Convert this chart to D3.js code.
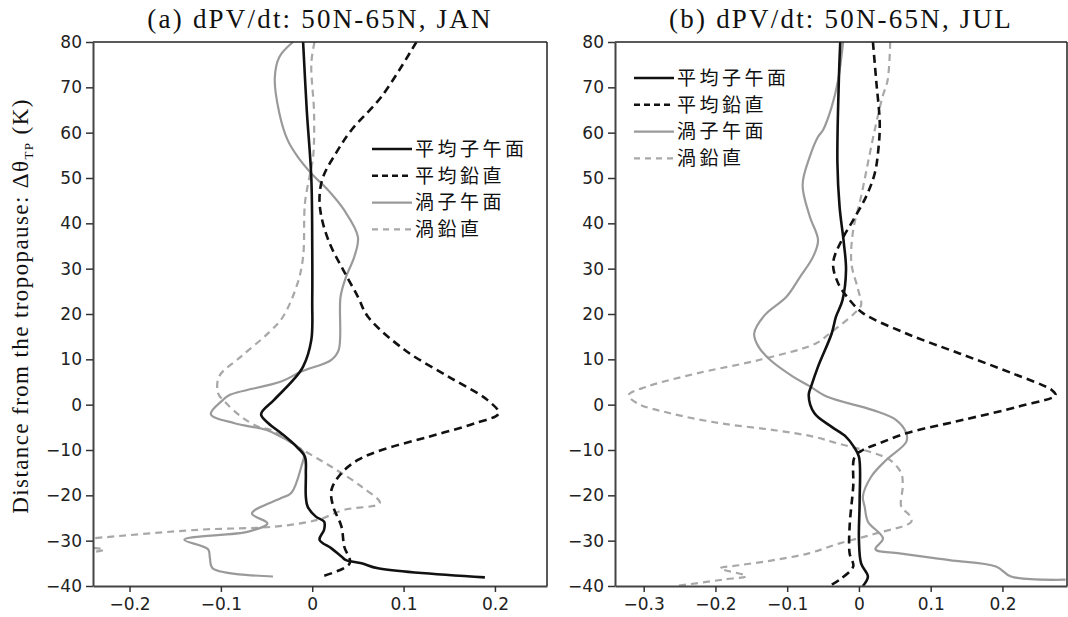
<!DOCTYPE html>
<html><head><meta charset="utf-8">
<script src="https://cdn.jsdelivr.net/npm/d3@7"></script>
<style>body{margin:0;background:#fff}svg{display:block}</style>
</head><body>
<svg id="c" width="1068" height="617"></svg>
<script>
// ---- Data: [value, Δθ_TP level] ----
const titles = ["(a) dPV/dt: 50N-65N, JAN", "(b) dPV/dt: 50N-65N, JUL"];
const seriesNames = ["平均子午面", "平均鉛直", "渦子午面", "渦鉛直"];
const yTicks = [-40, -30, -20, -10, 0, 10, 20, 30, 40, 50, 60, 70, 80];
const xTicksJan = [-0.2, -0.1, 0, 0.1, 0.2];
const xTicksJul = [-0.3, -0.2, -0.1, 0, 0.1, 0.2];
const xDomainJan = [-0.24, 0.257];
const xDomainJul = [-0.34, 0.29];

const janMeanMer = [[-0.010,80],[-0.006,65],[-0.001,50],[0,35],[0,23],[-0.001,14.3],[-0.010,8.4],[-0.021,5.4],[-0.042,1],[-0.056,-2.1],[-0.048,-4.1],[-0.034,-6.3],[-0.017,-9.3],[-0.008,-11.5],[-0.007,-15.1],[-0.007,-20.3],[-0.005,-22.5],[0.004,-24.7],[0.013,-25.8],[0.013,-27.6],[0.008,-29.8],[0.021,-31.7],[0.032,-33.5],[0.037,-34.3],[0.054,-35],[0.072,-36.1],[0.189,-38.1]];
const janMeanVer = [[0.114,80],[0.076,68],[0.043,60.6],[0.026,55.5],[0.012,50.3],[0.008,45.9],[0.010,41.5],[0.019,35.6],[0.034,29.7],[0.050,23.8],[0.061,19.4],[0.101,12.1],[0.149,6.2],[0.192,1],[0.204,-1.9],[0.178,-4.1],[0.127,-7.1],[0.076,-10],[0.050,-12.2],[0.032,-15.1],[0.021,-18.8],[0.023,-22.5],[0.032,-26.9],[0.035,-31.3],[0.041,-35],[0.010,-37.9]];
const janEddyMer = [[-0.021,80],[-0.036,76.7],[-0.041,72],[-0.036,64.3],[-0.027,58.4],[-0.016,54.7],[-0.001,51],[0.017,47.4],[0.035,42.9],[0.050,37],[0.046,32.6],[0.037,28.2],[0.031,23.8],[0.029,12.1],[0.021,9.9],[-0.012,7.3],[-0.034,5.1],[-0.091,2.1],[-0.098,1],[-0.111,-2.1],[-0.085,-4.1],[-0.050,-5.6],[-0.034,-7.1],[-0.016,-9.3],[-0.009,-10.7],[-0.012,-13.7],[-0.023,-19.5],[-0.034,-20.6],[-0.066,-24],[-0.049,-26.2],[-0.070,-28],[-0.140,-29.8],[-0.114,-31.9],[-0.112,-33.9],[-0.109,-36.1],[-0.043,-37.9]];
const janEddyVer = [[0.0025,80],[-0.001,75.3],[0.002,64.3],[0.001,54.7],[-0.003,50.3],[-0.008,44.4],[-0.010,32.6],[-0.016,26.8],[-0.032,19.4],[-0.047,16],[-0.078,10.6],[-0.102,6.2],[-0.103,2.5],[-0.096,0.7],[-0.078,-2.6],[-0.059,-4.9],[-0.045,-5.6],[-0.016,-9.3],[0.021,-13.7],[0.054,-18.1],[0.074,-21.7],[0.035,-23.2],[0.006,-25.4],[-0.041,-26.9],[-0.125,-27.6],[-0.242,-29.5],[-0.30,-30.5],[-0.255,-31.3],[-0.228,-32],[-0.30,-34]];

const julMeanMer = [[-0.026,80],[-0.028,71.6],[-0.030,53.3],[-0.027,43.7],[-0.021,35.6],[-0.018,29.7],[-0.023,23],[-0.032,19.4],[-0.038,15.7],[-0.057,8.4],[-0.066,4.3],[-0.070,2.1],[-0.062,-1.9],[-0.038,-4.9],[-0.018,-7.1],[-0.007,-9.3],[0,-11.5],[0.001,-21],[0,-29.8],[0.003,-35],[0.0125,-37.9],[0.0055,-40]];
const julMeanVer = [[0.0195,80],[0.024,71.6],[0.029,62],[0.027,56.2],[0.022,51],[0.010,45.9],[-0.008,40.7],[-0.024,36.3],[-0.036,31.2],[-0.029,26.8],[-0.013,23.1],[0.0055,20.2],[0.066,15.7],[0.140,11.3],[0.214,6.9],[0.269,3.2],[0.274,2.1],[0.223,-0.4],[0.144,-3.4],[0.066,-6.3],[0.029,-8.5],[0.0055,-10],[-0.006,-11.5],[-0.008,-18.1],[-0.013,-26.9],[-0.013,-32.8],[-0.008,-35.7],[-0.027,-38.6],[-0.041,-40]];
const julEddyMer = [[-0.022,80],[-0.029,71.6],[-0.038,65.7],[-0.050,60.6],[-0.057,59.1],[-0.0685,54.7],[-0.0785,48.5],[-0.0685,41.5],[-0.057,36.3],[-0.064,32.6],[-0.082,28.2],[-0.101,23.8],[-0.131,19.8],[-0.146,15.7],[-0.140,12.8],[-0.124,9.9],[-0.092,6.2],[-0.070,4.2],[-0.045,1.8],[0.0195,-1.2],[0.052,-3.4],[0.066,-6.3],[0.066,-8.2],[0.038,-12.2],[0.017,-15.9],[0.0055,-20.3],[0.008,-22.5],[0.0125,-25.8],[0.0335,-29.5],[0.023,-31.9],[0.0565,-32.8],[0.126,-34.3],[0.191,-35.7],[0.212,-37.9],[0.288,-38.6]];
const julEddyVer = [[0.0436,80],[0.040,71.6],[0.033,68],[0.022,60.6],[0.0125,53.3],[0.003,45.9],[-0.008,38.5],[-0.0105,31.2],[-0.001,25.3],[0.003,22],[-0.006,20.2],[-0.041,15.7],[-0.060,13.5],[-0.138,9.9],[-0.226,6.9],[-0.295,4],[-0.321,2.1],[-0.309,0.3],[-0.263,-1.9],[-0.1935,-4.1],[-0.119,-5.6],[-0.062,-7.1],[-0.031,-8.5],[0.015,-10.4],[0.043,-12.2],[0.059,-15.1],[0.061,-18.1],[0.059,-22.5],[0.070,-24.3],[0.073,-25.8],[0.024,-28.4],[-0.027,-30.6],[-0.070,-32.8],[-0.119,-34.3],[-0.166,-35.4],[-0.1935,-36.1],[-0.157,-37.8],[-0.19,-38.6],[-0.255,-40]];

const styles = [
  {stroke:"#111", width:2.6, dash:null},
  {stroke:"#111", width:2.6, dash:"8,5"},
  {stroke:"#9a9a9a", width:2.2, dash:null},
  {stroke:"#a8a8a8", width:2.2, dash:"7,5"}
];

const svg = d3.select("#c");
const yTop = 42, yBottom = 586;
const panels = [
  {x0:93, x1:547, dom:xDomainJan, ticks:xTicksJan, series:[janMeanMer,janMeanVer,janEddyMer,janEddyVer], title:titles[0], legend:{x:372, y:149}},
  {x0:615, x1:1067, dom:xDomainJul, ticks:xTicksJul, series:[julMeanMer,julMeanVer,julEddyMer,julEddyVer], title:titles[1], legend:{x:634, y:78}}
];
const y = d3.scaleLinear().domain([-40,80]).range([yBottom, yTop]);
const fmt = v => (v < 0 ? "\u2212" : "") + (v === 0 ? "0" : String(Math.abs(v)));

panels.forEach((p, i) => {
  const x = d3.scaleLinear().domain(p.dom).range([p.x0, p.x1]);
  const g = svg.append("g");
  const cid = "clip" + i;
  svg.append("defs").append("clipPath").attr("id", cid).append("rect")
    .attr("x", p.x0).attr("y", yTop).attr("width", p.x1 - p.x0).attr("height", yBottom - yTop);

  const line = d3.line().x(d => x(d[0])).y(d => y(d[1])).curve(d3.curveCatmullRom.alpha(0.5));
  [3, 2, 1, 0].forEach(k => {
    const s = styles[k];
    g.append("path").attr("clip-path", `url(#${cid})`)
      .attr("d", line(p.series[k])).attr("fill", "none")
      .attr("stroke", s.stroke).attr("stroke-width", s.width)
      .attr("stroke-dasharray", s.dash).attr("stroke-linejoin", "round");
  });

  g.append("line").attr("x1", p.x0).attr("x2", p.x1).attr("y1", yTop).attr("y2", yTop).attr("stroke", "#222").attr("stroke-width", 1.5);
  g.append("line").attr("x1", p.x1).attr("x2", p.x1).attr("y1", yTop).attr("y2", yBottom).attr("stroke", "#222").attr("stroke-width", 1.5);

  const ax = g.append("g").attr("transform", `translate(0,${yBottom})`)
    .call(d3.axisBottom(x).tickValues(p.ticks).tickSize(6).tickSizeOuter(0).tickFormat(fmt).tickPadding(6));
  const ay = g.append("g").attr("transform", `translate(${p.x0},0)`)
    .call(d3.axisLeft(y).tickValues(yTicks).tickSize(7).tickSizeOuter(0).tickFormat(fmt).tickPadding(4));
  [ax, ay].forEach(a => {
    a.select(".domain").attr("stroke", "#444").attr("stroke-width", 2);
    a.selectAll(".tick line").attr("stroke", "#333").attr("stroke-width", 1.5);
    a.selectAll("text").attr("fill", "#222").style("font-family", "'DejaVu Sans', sans-serif").style("font-size", "17px");
  });

  g.append("text").attr("x", (p.x0 + p.x1) / 2).attr("y", 28).attr("text-anchor", "middle")
    .style("font-family", "'Liberation Serif', serif").style("font-size", "27px")
    .style("letter-spacing", "2.2px").attr("fill", "#111").text(p.title);

  seriesNames.forEach((name, k) => {
    const s = styles[k];
    const ly = p.legend.y + k * 26.8;
    g.append("line").attr("x1", p.legend.x).attr("x2", p.legend.x + 40).attr("y1", ly).attr("y2", ly)
      .attr("stroke", s.stroke).attr("stroke-width", s.width)
      .attr("stroke-dasharray", s.dash ? (k === 1 ? "6,4" : "6,5") : null);
    g.append("text").attr("x", p.legend.x + 43).attr("y", ly).attr("dy", "0.36em")
      .style("font-family", "'Noto Sans CJK JP', sans-serif").style("font-size", "19px")
      .style("letter-spacing", "3.5px").attr("fill", "#111").text(name);
  });
});

const yl = svg.append("text").attr("transform", `translate(28,306) rotate(-90)`)
  .attr("text-anchor", "middle").style("font-family", "'Liberation Serif', serif").style("font-size", "23px")
  .style("letter-spacing", "1.4px").attr("fill", "#111");
yl.append("tspan").text("Distance from the tropopause: \u0394\u03B8");
yl.append("tspan").attr("dy", 5).style("font-size", "13px").text("TP");
yl.append("tspan").attr("dy", -5).text(" (K)");
</script>
</body></html>
